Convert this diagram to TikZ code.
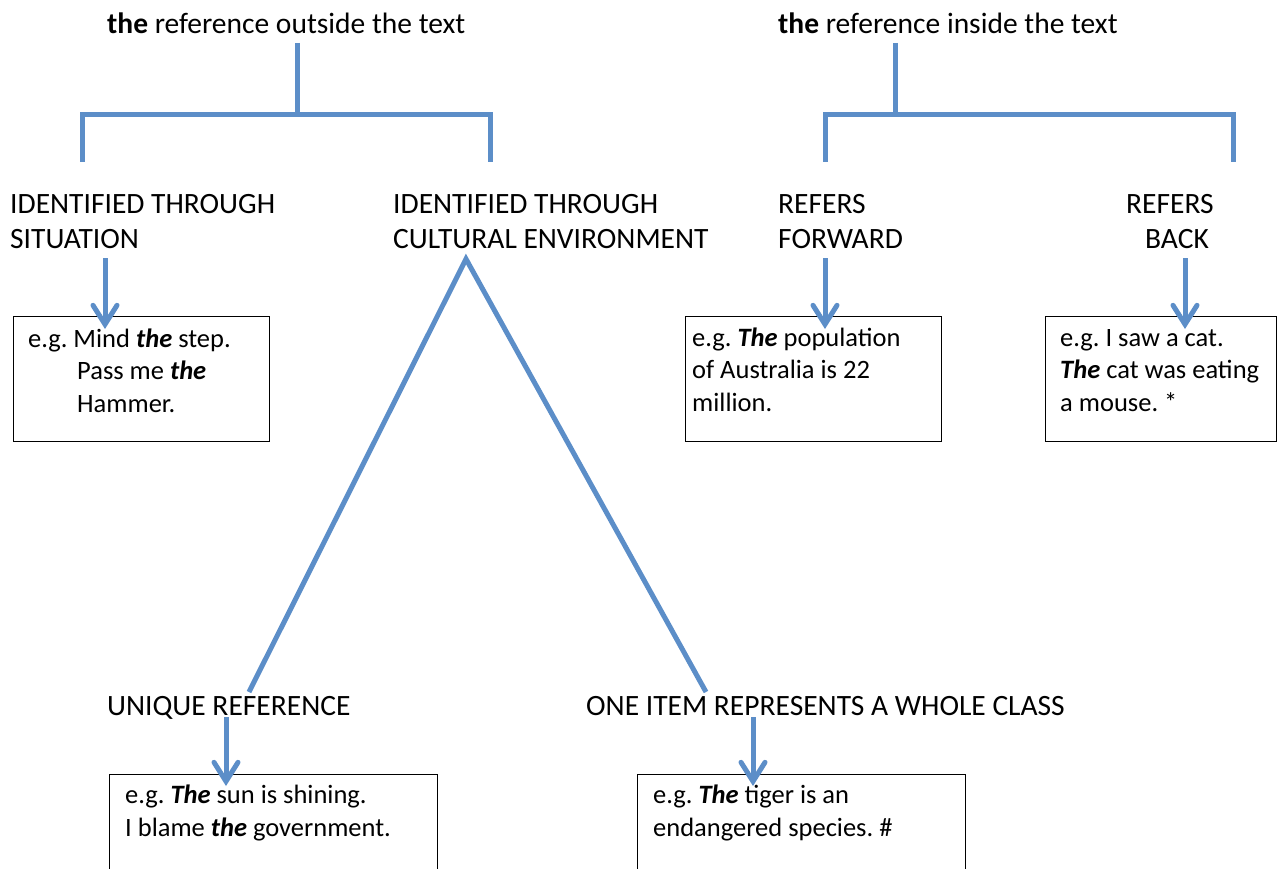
\documentclass[tikz,border=0pt]{standalone}
\usepackage{fontspec}
\setmainfont{Carlito}
\usetikzlibrary{arrows.meta}
\definecolor{lineblue}{RGB}{92,142,200}
\newcommand{\BI}[1]{\textbf{\textit{#1}}}
\frenchspacing
\tikzset{
  conn/.style={draw=lineblue, line width=5pt},
  arr/.style={conn, -{Straight Barb[length=19pt,width=24pt,line cap=round]}},
  lbl/.style={anchor=base west, inner sep=0pt, align=left, font=\fontsize{29.5}{35}\selectfont},
  ex/.style={anchor=base west, inner sep=0pt, align=left, font=\fontsize{26.5}{32.5}\selectfont},
  exbox/.style={draw=black, line width=1.2pt, rectangle, inner sep=0pt, anchor=north west},
}
\begin{document}
\begin{tikzpicture}[x=1pt,y=-1pt]
\useasboundingbox (0,0) rectangle (1279,869);
% titles
\node[lbl] (t1) at (107,34) {\textbf{the} reference outside the text};
\node[lbl] (t2) at (778,34) {\textbf{the} reference inside the text};
% brackets
\coordinate (b1s) at (297,43);
\coordinate (b1m) at (297,115);
\coordinate (b1l) at (82,115);
\coordinate (b1r) at (490,115);
\coordinate (b1ld) at (82,162);
\coordinate (b1rd) at (490,162);
\draw[conn] (b1s) -- (b1m);
\draw[conn] (b1ld) -- (b1l) -- (b1r) -- (b1rd);
\coordinate (b2s) at (895,43);
\coordinate (b2m) at (895,115);
\coordinate (b2l) at (825,115);
\coordinate (b2r) at (1233,115);
\coordinate (b2ld) at (825,162);
\coordinate (b2rd) at (1233,162);
\draw[conn] (b2s) -- (b2m);
\draw[conn] (b2ld) -- (b2l) -- (b2r) -- (b2rd);
% second-row labels (anchor = baseline of last line)
\node[lbl] (s1) at (10,248) {IDENTIFIED THROUGH\\SITUATION};
\node[lbl] (s2) at (393,248) {IDENTIFIED THROUGH\\CULTURAL ENVIRONMENT};
\node[lbl] (s3) at (778,248) {REFERS\\FORWARD};
\node[lbl] (s4) at (1126,248) {REFERS\\\hspace*{19pt}BACK};
% boxes
\node[exbox, minimum width=256pt, minimum height=125pt] (box1) at (13,316) {};
\node[exbox, minimum width=256pt, minimum height=125pt] (box2) at (685,316) {};
\node[exbox, minimum width=231pt, minimum height=125pt] (box3) at (1045,316) {};
\node[exbox, minimum width=328pt, minimum height=140pt] (box4) at (109,774) {};
\node[exbox, minimum width=328pt, minimum height=140pt] (box5) at (637,774) {};
% box texts (anchor = baseline of last line)
\node[ex] (x1) at (28,412) {e.g. Mind \BI{the} step.\\\hspace*{49pt}Pass me \BI{the}\\\hspace*{49pt}Hammer.};
\node[ex] (x2) at (692,411) {e.g. \BI{The} population\\of Australia is 22\\million.};
\node[ex] (x3) at (1060,411) {e.g. I saw a cat.\\\BI{The} cat was eating\\a mouse. *};
\node[ex] (x4) at (125,836) {e.g. \BI{The} sun is shining.\\I blame \BI{the} government.};
\node[ex] (x5) at (653,836) {e.g. \BI{The} tiger is an\\endangered species. \#};
% arrows to boxes
\coordinate (a1s) at (105,258); \coordinate (a1e) at (105,329);
\coordinate (a2s) at (825,258); \coordinate (a2e) at (825,329);
\coordinate (a3s) at (1185,258); \coordinate (a3e) at (1185,329);
\draw[arr] (a1s) -- (a1e);
\draw[arr] (a2s) -- (a2e);
\draw[arr] (a3s) -- (a3e);
% triangle
\coordinate (apex) at (466,259);
\coordinate (tl) at (249,692);
\coordinate (tr) at (706,692);
\draw[conn, line join=miter] (tl) -- (apex) -- (tr);
% bottom labels
\node[lbl] (u1) at (107,715) {UNIQUE REFERENCE};
\node[lbl] (u2) at (586,715) {ONE ITEM REPRESENTS A WHOLE CLASS};
\coordinate (a4s) at (226,717); \coordinate (a4e) at (226,786);
\coordinate (a5s) at (753,717); \coordinate (a5e) at (753,786);
\draw[arr] (a4s) -- (a4e);
\draw[arr] (a5s) -- (a5e);
\end{tikzpicture}
\end{document}
